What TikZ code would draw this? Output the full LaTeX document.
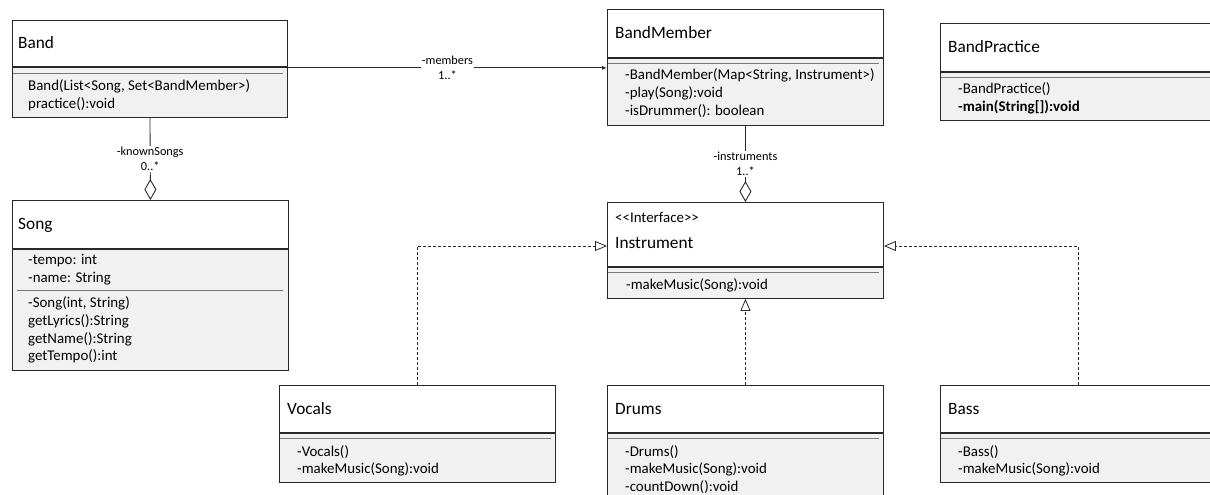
\documentclass[tikz,border=0pt]{standalone}
\usepackage{fontspec}
\setmainfont{Carlito}
\usetikzlibrary{arrows.meta}
\definecolor{compfill}{RGB}{241,241,241}
\definecolor{edge}{RGB}{40,40,40}
\definecolor{sepline}{RGB}{120,120,120}
\tikzset{
  hdr/.style={draw=edge, line width=0.9pt, fill=white, anchor=north west, inner sep=0pt},
  comp/.style={draw=edge, line width=0.9pt, fill=compfill, anchor=north west, inner sep=0pt},
  cname/.style={anchor=west, inner sep=0pt, font=\fontsize{17.3}{20}\selectfont},
  member/.style={anchor=west, inner sep=0pt, font=\fontsize{14.9}{17}\selectfont},
  rolelabel/.style={fill=white, align=center, inner sep=1pt, font=\fontsize{12.3}{15}\selectfont},
  sep/.style={draw=sepline, line width=0.6pt},
  link/.style={draw=edge, line width=0.9pt},
  realize/.style={draw=edge, line width=0.8pt, dash pattern=on 3pt off 2pt,
    -{Triangle[open, length=12pt, width=10pt]}},
  aggregate/.style={link, -{Diamond[open, length=21pt, width=12pt]}},
  navigable/.style={link, -{Latex[length=5pt, width=4pt]}}
}
\begin{document}
\begin{tikzpicture}[x=1pt, y=-1pt]
\useasboundingbox (0,0) rectangle (1210,495);
\clip (0,0) rectangle (1210,495);

% ---- Band ----
\node[hdr, minimum width=275pt, minimum height=46pt] (band) at (12,20) {};
\node[comp, minimum width=275pt, minimum height=50pt] (bandB) at (band.south west) {};
\draw[sep] (13,73) -- (283,73);
\node[cname] (bandT) at (18,43) {Band};
\node[member] (bandM1) at (28,86) {Band(List<Song, Set<BandMember>)};
\node[member] (bandM2) at (28,104) {practice():void};

% ---- BandMember ----
\node[hdr, minimum width=276pt, minimum height=48pt] (bm) at (607,9) {};
\node[comp, minimum width=276pt, minimum height=67pt] (bmB) at (bm.south west) {};
\draw[sep] (608,63) -- (879,63);
\node[cname] (bmT) at (615,33) {BandMember};
\node[member] (bmM1) at (625,75) {-BandMember(Map<String, Instrument>)};
\node[member] (bmM2) at (625,93) {-play(Song):void};
\node[member] (bmM3) at (625,111) {-isDrummer(): boolean};

% ---- BandPractice ----
\node[hdr, minimum width=290pt, minimum height=48pt] (bp) at (940,23) {};
\node[comp, minimum width=290pt, minimum height=48pt] (bpB) at (bp.south west) {};
\draw[sep] (941,77) -- (1230,77);
\node[cname] (bpT) at (948,47) {BandPractice};
\node[member] (bpM1) at (958,89) {-BandPractice()};
\node[member] (bpM2) at (958,107) {\bfseries -main(String[]):void};

% ---- Song ----
\node[hdr, minimum width=276pt, minimum height=48pt] (song) at (12,200) {};
\node[comp, minimum width=276pt, minimum height=121pt] (songB) at (song.south west) {};
\draw[sep] (17,290) -- (283,290);
\node[cname] (songT) at (18,225) {Song};
\node[member] (songA1) at (28,261) {-tempo: int};
\node[member] (songA2) at (28,279) {-name: String};
\node[member] (songM1) at (28,303) {-Song(int, String)};
\node[member] (songM2) at (28,321) {getLyrics():String};
\node[member] (songM3) at (28,339) {getName():String};
\node[member] (songM4) at (28,356) {getTempo():int};

% ---- Instrument ----
\node[hdr, minimum width=276pt, minimum height=64pt] (inst) at (607,202) {};
\node[comp, minimum width=276pt, minimum height=31pt] (instB) at (inst.south west) {};
\draw[sep] (608,272) -- (879,272);
\node[member] (instS) at (615,217) {<{}<Interface>{}>};
\node[cname] (instT) at (615,243) {Instrument};
\node[member] (instM1) at (626,285) {-makeMusic(Song):void};

% ---- Vocals ----
\node[hdr, minimum width=276pt, minimum height=47pt] (voc) at (279,385) {};
\node[comp, minimum width=276pt, minimum height=49pt] (vocB) at (voc.south west) {};
\draw[sep] (280,438) -- (551,438);
\node[cname] (vocT) at (287,409) {Vocals};
\node[member] (vocM1) at (297,452) {-Vocals()};
\node[member] (vocM2) at (297,469) {-makeMusic(Song):void};

% ---- Drums ----
\node[hdr, minimum width=276pt, minimum height=47pt] (drm) at (607,385) {};
\node[comp, minimum width=276pt, minimum height=80pt] (drmB) at (drm.south west) {};
\draw[sep] (608,438) -- (879,438);
\node[cname] (drmT) at (615,409) {Drums};
\node[member] (drmM1) at (625,452) {-Drums()};
\node[member] (drmM2) at (625,469) {-makeMusic(Song):void};
\node[member] (drmM3) at (625,487) {-countDown():void};

% ---- Bass ----
\node[hdr, minimum width=290pt, minimum height=47pt] (bass) at (940,385) {};
\node[comp, minimum width=290pt, minimum height=49pt] (bassB) at (bass.south west) {};
\draw[sep] (941,438) -- (1230,438);
\node[cname] (bassT) at (948,409) {Bass};
\node[member] (bassM1) at (958,452) {-Bass()};
\node[member] (bassM2) at (958,469) {-makeMusic(Song):void};

% ---- associations ----
\coordinate (bandR) at ([yshift=-1pt]bandB.north east);
\draw[navigable] (bandR) -- (bandR -| bmB.west)
  node[rolelabel, midway] {-members\\1..*};
\draw[aggregate] (bandB.south) -- (song.north)
  node[rolelabel, pos=0.5] {-knownSongs\\0..*};
\draw[aggregate] (bmB.south) -- (inst.north)
  node[rolelabel, pos=0.5] {-instruments\\1..*};

% ---- interface realizations ----
\coordinate (instL) at (inst.west |- 0,246);
\coordinate (instR) at (inst.east |- 0,246);
\draw[realize] (voc.north -| 417,0) |- (instL);
\draw[realize] (drm.north) -- (instB.south);
\draw[realize] (bass.north -| 1078,0) |- (instR);
\end{tikzpicture}
\end{document}
